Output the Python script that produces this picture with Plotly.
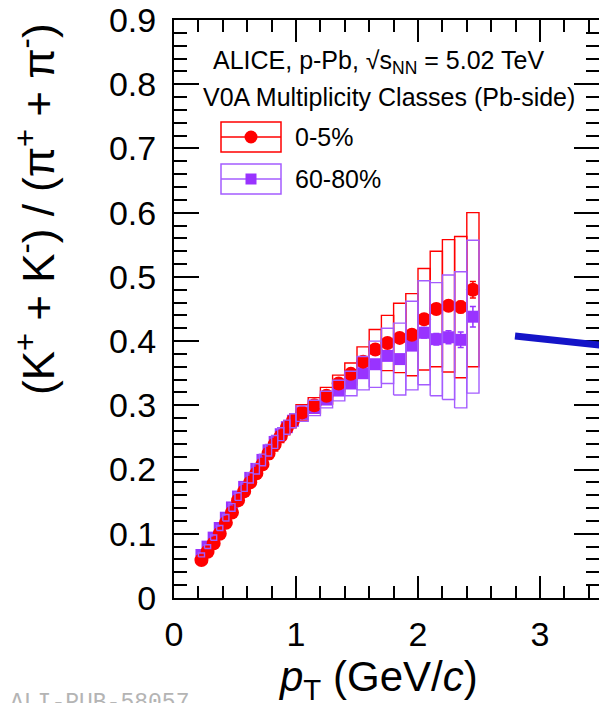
import plotly.graph_objects as go

# ---------------- data ----------------
pt_edges = [0.20, 0.25, 0.30, 0.35, 0.40, 0.45, 0.50, 0.55, 0.60, 0.65, 0.70,
            0.75, 0.80, 0.85, 0.90, 0.95, 1.00, 1.10, 1.20, 1.30, 1.40, 1.50,
            1.60, 1.70, 1.80, 1.90, 2.00, 2.10, 2.20, 2.30, 2.40, 2.50]

ratio_0_5 = [0.059, 0.072, 0.085, 0.100, 0.117, 0.133, 0.152, 0.166, 0.180, 0.194,
             0.208, 0.225, 0.239, 0.252, 0.265, 0.276, 0.289, 0.300, 0.315, 0.334,
             0.349, 0.368, 0.387, 0.397, 0.405, 0.410, 0.434, 0.450, 0.455, 0.453, 0.480]
stat_0_5 = [0.001, 0.001, 0.001, 0.001, 0.001, 0.001, 0.001, 0.001, 0.001, 0.001,
            0.001, 0.001, 0.001, 0.001, 0.001, 0.001, 0.002, 0.002, 0.002, 0.002,
            0.002, 0.003, 0.003, 0.003, 0.004, 0.004, 0.005, 0.006, 0.007, 0.009, 0.013]
sys_0_5 = [0.003, 0.003, 0.004, 0.004, 0.005, 0.005, 0.006, 0.007, 0.007, 0.008,
           0.008, 0.009, 0.010, 0.010, 0.011, 0.011, 0.012, 0.012, 0.013, 0.013,
           0.017, 0.023, 0.031, 0.043, 0.054, 0.064, 0.079, 0.090, 0.103, 0.110, 0.120]

ratio_60_80 = [0.067, 0.080, 0.094, 0.109, 0.125, 0.141, 0.158, 0.173, 0.187, 0.201,
               0.215, 0.230, 0.243, 0.255, 0.266, 0.276, 0.287, 0.296, 0.309, 0.323,
               0.334, 0.350, 0.364, 0.377, 0.372, 0.393, 0.413, 0.403, 0.406, 0.402, 0.438]
stat_60_80 = [0.001, 0.001, 0.001, 0.001, 0.001, 0.001, 0.001, 0.001, 0.001, 0.001,
              0.001, 0.001, 0.001, 0.001, 0.001, 0.002, 0.002, 0.002, 0.002, 0.003,
              0.003, 0.003, 0.004, 0.004, 0.005, 0.006, 0.008, 0.009, 0.010, 0.012, 0.016]
sys_60_80 = [0.003, 0.003, 0.004, 0.004, 0.005, 0.006, 0.006, 0.007, 0.008, 0.008,
             0.009, 0.009, 0.010, 0.010, 0.011, 0.011, 0.012, 0.012, 0.013, 0.016,
             0.019, 0.026, 0.036, 0.043, 0.056, 0.069, 0.081, 0.088, 0.097, 0.106, 0.119]

labels = ["0-5%", "60-80%"]
x_ticks = [0, 1, 2, 3]
y_ticks = [0, 0.1, 0.2, 0.3, 0.4, 0.5, 0.6, 0.7, 0.8, 0.9]

RED = "#ff0000"
PURPLE = "#9933ff"
PURPLE_BOX = "#a45cff"
FONT = "Liberation Sans, Arial, sans-serif"

pt_lo = pt_edges[:-1]
pt_hi = pt_edges[1:]
pt = [(a + b) / 2 for a, b in zip(pt_lo, pt_hi)]


def box_path(vals, syss):
    xs, ys = [], []
    for a, b, v, s in zip(pt_lo, pt_hi, vals, syss):
        xs += [a, b, b, a, a, None]
        ys += [v - s, v - s, v + s, v + s, v - s, None]
    return xs, ys


fig = go.Figure()

bx, by = box_path(ratio_60_80, sys_60_80)
fig.add_trace(go.Scatter(x=bx, y=by, mode="lines", line=dict(color=PURPLE_BOX, width=1.4),
                         showlegend=False, hoverinfo="skip", yaxis="y2"))
bx, by = box_path(ratio_0_5, sys_0_5)
fig.add_trace(go.Scatter(x=bx, y=by, mode="lines", line=dict(color=RED, width=1.4),
                         showlegend=False, hoverinfo="skip"))

fig.add_trace(go.Scatter(x=pt, y=ratio_60_80, mode="markers", name=labels[1],
                         marker=dict(symbol="square", size=12, color=PURPLE),
                         error_y=dict(type="data", array=stat_60_80, color=PURPLE,
                                      thickness=1.5, width=3),
                         showlegend=False))
fig.add_trace(go.Scatter(x=pt, y=ratio_0_5, mode="markers", name=labels[0],
                         marker=dict(symbol="circle", size=14, color=RED),
                         error_y=dict(type="data", array=stat_0_5, color=RED,
                                      thickness=1.5, width=3),
                         showlegend=False))

# ---------------- layout ----------------
L, T, W, H = 174, 20, 599, 703
PW, PH = W - L, 578


def px(x):
    return (x - L) / PW


def py(y):
    return (T + PH - y) / PH


axis_common = dict(showgrid=False, zeroline=False, ticks="inside", tickwidth=2,
                   tickcolor="black", linecolor="black", linewidth=2,
                   tickfont=dict(family=FONT, size=34, color="black"))

fig.update_layout(
    width=W, height=H,
    margin=dict(l=L, r=0, t=T, b=H - T - PH, pad=0),
    paper_bgcolor="white", plot_bgcolor="white",
    showlegend=False,
    xaxis=dict(range=[0, (W - L) / 122.0], tickvals=x_ticks, ticklen=22,
               minor=dict(dtick=0.2, tick0=0, ticklen=12, tickwidth=2, ticks="inside",
                          tickcolor="black"),
               showline=True, mirror="ticks", ticklabelstandoff=5, **axis_common),
    yaxis=dict(range=[0, 0.9], tickvals=y_ticks, ticktext=[f"{v:g}" for v in y_ticks],
               ticklen=25,
               minor=dict(dtick=0.02, tick0=0, ticklen=13, tickwidth=2, ticks="inside",
                          tickcolor="black"),
               showline=True, mirror=False, ticklabelstandoff=9, **axis_common),
    yaxis2=dict(range=[0, 0.9], overlaying="y", side="right", matches="y",
                tickvals=y_ticks, ticklen=25, showticklabels=False, showline=False,
                minor=dict(dtick=0.02, tick0=0, ticklen=13, tickwidth=2, ticks="inside",
                           tickcolor="black"),
                showgrid=False, zeroline=False, ticks="inside", tickwidth=2,
                tickcolor="black"),
)

# axis titles
fig.add_annotation(text="<i>p</i><sub>T</sub> (GeV/<i>c</i>)", xref="paper", yref="paper",
                   x=px(378), y=py(679), xanchor="center", yanchor="middle",
                   showarrow=False, font=dict(family=FONT, size=42, color="black"))
fig.add_annotation(text="(K<sup>+</sup> + K<sup>-</sup>) / (π<sup>+</sup> + π<sup>-</sup>)",
                   xref="paper", yref="paper", x=px(35), y=py(209), textangle=-90,
                   xanchor="center", yanchor="middle", showarrow=False,
                   font=dict(family=FONT, size=44, color="black"))

# header texts
fig.add_annotation(text="ALICE, p-Pb, √s<sub>NN</sub> = 5.02 TeV", xref="paper", yref="paper",
                   x=px(378.5), y=py(62), xanchor="center", yanchor="middle",
                   showarrow=False, font=dict(family=FONT, size=25, color="black"))
fig.add_annotation(text="V0A Multiplicity Classes (Pb-side)", xref="paper", yref="paper",
                   x=px(388.5), y=py(97), xanchor="center", yanchor="middle",
                   showarrow=False, font=dict(family=FONT, size=25, color="black"))

# legend (drawn)
for lab, yc, col, boxcol, sym in [(labels[0], 137, RED, RED, "circle"),
                                  (labels[1], 179, PURPLE, PURPLE_BOX, "square")]:
    fig.add_shape(type="rect", xref="paper", yref="paper", x0=px(221), x1=px(281),
                  y0=py(yc - 15), y1=py(yc + 15), line=dict(color=boxcol, width=1.5))
    fig.add_shape(type="line", xref="paper", yref="paper", x0=px(221), x1=px(281),
                  y0=py(yc), y1=py(yc), line=dict(color=boxcol, width=1.5))
    r = 6.5 if sym == "circle" else 5.5
    fig.add_shape(type="circle" if sym == "circle" else "rect", xref="paper", yref="paper",
                  xsizemode="pixel", ysizemode="pixel", xanchor=px(251), yanchor=py(yc),
                  x0=-r, x1=r, y0=-r, y1=r, fillcolor=col, line=dict(width=0))
    fig.add_annotation(text=lab, xref="paper", yref="paper", x=px(293), y=py(yc),
                       xanchor="left", yanchor="middle", showarrow=False,
                       font=dict(family=FONT, size=25, color="black"))

# blue pointer line (from figure composition)
fig.add_shape(type="line", xref="paper", yref="paper", x0=px(515), y0=py(336),
              x1=px(603), y1=py(345.5), line=dict(color="#1414c8", width=7))

# watermark
fig.add_annotation(text="ALI-PUB-58057", xref="paper", yref="paper", x=px(8), y=py(703),
                   xanchor="left", yanchor="middle", showarrow=False,
                   font=dict(family="Liberation Mono, Courier New, monospace", size=23,
                             color="#b4b4b4"))

fig.write_html("out.html")
